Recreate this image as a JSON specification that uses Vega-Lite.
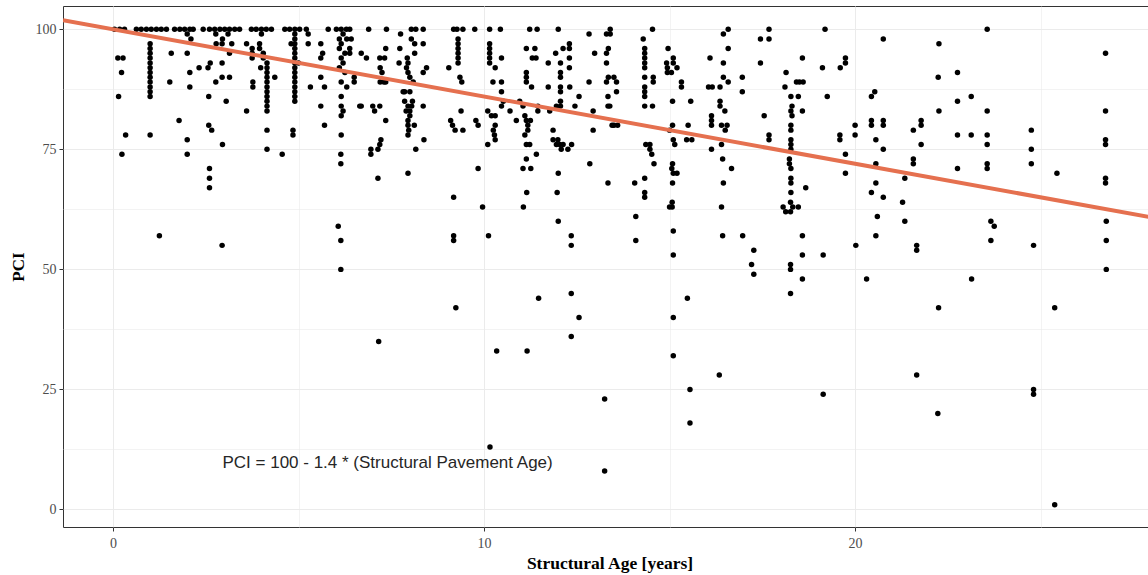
{
"$schema": "https://vega.github.io/schema/vega-lite/v6.json",
"width": 1093, "height": 521,
"autosize": {"type": "none"},
"padding": {"left": 63, "top": 6, "right": 0, "bottom": 48},
"background": "white",
"config": {"view": {"stroke": "#333333", "strokeWidth": 1}},
"datasets": {
"pts": [
{"a":0.04,"p":100},{"a":0.18,"p":100},{"a":0.31,"p":100},{"a":0.13,"p":94},{"a":0.27,"p":94},{"a":0.23,"p":91},{"a":0.15,"p":86},{"a":0.34,"p":78},{"a":0.24,"p":74},
{"a":0.63,"p":100},{"a":0.76,"p":100},{"a":0.9,"p":100},{"a":1.03,"p":100},{"a":1.17,"p":100},{"a":1.3,"p":100},{"a":1.44,"p":100},
{"a":1.0,"p":97},{"a":1.0,"p":96},{"a":1.0,"p":95},{"a":1.0,"p":94},{"a":1.0,"p":93},{"a":1.0,"p":92},{"a":1.0,"p":91},{"a":1.0,"p":90},{"a":1.0,"p":89},{"a":1.0,"p":88},{"a":1.0,"p":87},{"a":1.0,"p":86},{"a":1.0,"p":78},{"a":1.25,"p":57},
{"a":1.66,"p":100},{"a":1.8,"p":100},{"a":1.93,"p":100},{"a":2.07,"p":100},{"a":2.16,"p":100},{"a":2.0,"p":99},{"a":2.1,"p":98},{"a":1.57,"p":95},{"a":1.53,"p":89},{"a":1.78,"p":81},{"a":2.0,"p":95},{"a":2.0,"p":77},{"a":2.0,"p":74},{"a":2.07,"p":91},{"a":2.07,"p":88},{"a":2.32,"p":92},
{"a":2.43,"p":100},{"a":2.6,"p":100},{"a":2.74,"p":100},{"a":2.88,"p":100},{"a":3.01,"p":100},{"a":3.14,"p":100},{"a":3.28,"p":100},{"a":3.41,"p":100},{"a":2.77,"p":99},{"a":2.95,"p":98},{"a":3.1,"p":99},{"a":3.2,"p":97},{"a":2.78,"p":97},{"a":2.94,"p":97},
{"a":2.56,"p":92},{"a":2.62,"p":93},{"a":2.77,"p":89},{"a":2.94,"p":93},{"a":2.94,"p":90},{"a":3.14,"p":90},{"a":3.14,"p":95},{"a":3.05,"p":85},{"a":2.58,"p":86},{"a":2.58,"p":80},{"a":2.66,"p":79},{"a":2.95,"p":76},{"a":2.6,"p":71},{"a":2.6,"p":69},{"a":2.6,"p":67},{"a":2.94,"p":55},
{"a":3.73,"p":100},{"a":3.86,"p":100},{"a":4.0,"p":100},{"a":4.13,"p":100},{"a":4.27,"p":100},{"a":4.0,"p":99},
{"a":3.6,"p":97},{"a":3.6,"p":83},{"a":3.77,"p":89},{"a":3.77,"p":88},{"a":3.75,"p":96},{"a":3.75,"p":95},{"a":3.75,"p":94},{"a":3.95,"p":97},{"a":3.95,"p":96},{"a":4.05,"p":95},{"a":4.05,"p":94},{"a":3.98,"p":92},
{"a":4.15,"p":93},{"a":4.15,"p":92},{"a":4.15,"p":91},{"a":4.15,"p":90},{"a":4.15,"p":89},{"a":4.15,"p":88},{"a":4.15,"p":87},{"a":4.15,"p":86},{"a":4.15,"p":85},{"a":4.15,"p":84},{"a":4.15,"p":83},{"a":4.15,"p":79},{"a":4.15,"p":75},{"a":4.36,"p":90},{"a":4.56,"p":74},
{"a":4.63,"p":100},{"a":4.76,"p":100},{"a":4.9,"p":100},{"a":5.03,"p":100},{"a":5.21,"p":100},
{"a":4.9,"p":99},{"a":4.9,"p":98},{"a":4.9,"p":97},{"a":4.9,"p":96},{"a":4.9,"p":95},{"a":4.9,"p":94},{"a":4.9,"p":93},{"a":4.9,"p":92},{"a":4.9,"p":91},{"a":4.9,"p":90},{"a":4.9,"p":89},{"a":4.9,"p":88},{"a":4.9,"p":87},{"a":4.9,"p":86},{"a":4.9,"p":85},{"a":4.85,"p":79},{"a":4.85,"p":78},{"a":4.8,"p":97},{"a":5.0,"p":93},
{"a":5.26,"p":99},{"a":5.26,"p":97},{"a":5.32,"p":88},
{"a":5.6,"p":97},{"a":5.65,"p":95},{"a":5.6,"p":90},{"a":5.7,"p":88},{"a":5.6,"p":84},{"a":5.7,"p":80},{"a":5.8,"p":100},{"a":5.6,"p":94},
{"a":6.02,"p":100},{"a":6.15,"p":100},{"a":6.29,"p":100},{"a":6.38,"p":100},{"a":6.2,"p":99},{"a":6.1,"p":98},{"a":6.3,"p":98},{"a":6.15,"p":97},{"a":6.1,"p":96},{"a":6.25,"p":95},{"a":6.15,"p":94},{"a":6.2,"p":93},{"a":6.1,"p":92},{"a":6.25,"p":91},{"a":6.15,"p":89},{"a":6.3,"p":88},{"a":6.15,"p":86},{"a":6.15,"p":84},{"a":6.2,"p":83},{"a":6.15,"p":82},{"a":6.15,"p":78},{"a":6.14,"p":74},{"a":6.14,"p":72},{"a":6.07,"p":59},{"a":6.14,"p":56},{"a":6.14,"p":50},
{"a":6.5,"p":90},{"a":6.5,"p":89},{"a":6.65,"p":84},{"a":6.42,"p":98},{"a":6.38,"p":96},{"a":6.38,"p":95},{"a":6.69,"p":95},{"a":6.83,"p":94},{"a":6.89,"p":100},{"a":6.69,"p":84},
{"a":7.37,"p":100},{"a":7.19,"p":94},{"a":7.32,"p":94},{"a":7.35,"p":96},{"a":7.2,"p":92},{"a":7.25,"p":91},{"a":7.2,"p":89},{"a":7.3,"p":89},{"a":7.35,"p":89},{"a":7.0,"p":84},{"a":7.05,"p":83},{"a":7.19,"p":84},{"a":7.35,"p":81},{"a":6.95,"p":75},{"a":6.95,"p":74},{"a":7.14,"p":75},{"a":7.19,"p":76},{"a":7.22,"p":77},{"a":7.14,"p":69},{"a":7.16,"p":35},
{"a":7.75,"p":99},{"a":8.04,"p":100},{"a":8.16,"p":100},{"a":8.36,"p":100},{"a":7.73,"p":96},{"a":7.71,"p":93},{"a":8.04,"p":98},{"a":8.13,"p":97},{"a":8.36,"p":97},{"a":8.13,"p":95},
{"a":7.93,"p":94},{"a":7.95,"p":93},{"a":7.91,"p":92},{"a":7.95,"p":91},{"a":8.0,"p":90},{"a":8.09,"p":89},{"a":8.45,"p":92},{"a":8.36,"p":91},
{"a":7.82,"p":87},{"a":7.86,"p":87},{"a":8.0,"p":87},{"a":7.86,"p":85},{"a":8.07,"p":85},{"a":7.95,"p":84},{"a":8.05,"p":84},{"a":7.9,"p":83},{"a":8.0,"p":83},{"a":8.0,"p":82},{"a":7.95,"p":81},{"a":7.95,"p":80},{"a":7.97,"p":79},{"a":7.95,"p":78},{"a":8.12,"p":80},{"a":8.36,"p":84},{"a":8.38,"p":77},{"a":8.16,"p":75},{"a":7.95,"p":70},
{"a":9.18,"p":100},{"a":9.27,"p":100},{"a":9.43,"p":100},{"a":9.75,"p":100},{"a":9.3,"p":98},{"a":9.3,"p":97},{"a":9.3,"p":96},{"a":9.3,"p":95},{"a":9.3,"p":94},{"a":9.3,"p":93},{"a":9.35,"p":90},{"a":9.4,"p":89},{"a":9.05,"p":92},{"a":9.1,"p":81},{"a":9.15,"p":80},{"a":9.22,"p":79},{"a":9.43,"p":79},{"a":9.38,"p":83},{"a":9.78,"p":81},{"a":9.84,"p":80},{"a":9.84,"p":71},{"a":9.18,"p":65},{"a":9.18,"p":57},{"a":9.18,"p":56},{"a":9.24,"p":42},{"a":9.96,"p":63},
{"a":10.15,"p":100},{"a":10.44,"p":100},{"a":10.15,"p":97},{"a":10.15,"p":96},{"a":10.15,"p":95},{"a":10.15,"p":94},{"a":10.15,"p":93},{"a":10.47,"p":94},{"a":10.3,"p":92},{"a":10.24,"p":89},{"a":10.47,"p":89},{"a":10.47,"p":87},{"a":10.1,"p":83},{"a":10.2,"p":82},{"a":10.3,"p":82},{"a":10.3,"p":80},{"a":10.28,"p":78},{"a":10.25,"p":79},{"a":10.1,"p":76},{"a":10.3,"p":77},{"a":10.47,"p":84},{"a":10.52,"p":85},{"a":10.7,"p":83},{"a":10.87,"p":81},{"a":10.12,"p":57},{"a":10.34,"p":33},{"a":10.16,"p":13},
{"a":11.23,"p":100},{"a":11.43,"p":100},{"a":11.14,"p":96},{"a":11.37,"p":96},{"a":11.4,"p":94},{"a":11.3,"p":94},{"a":11.14,"p":91},{"a":11.14,"p":90},{"a":11.14,"p":89},{"a":11.28,"p":88},{"a":10.96,"p":85},{"a":11.05,"p":84},{"a":11.1,"p":82},{"a":11.14,"p":81},{"a":11.18,"p":80},{"a":11.25,"p":81},{"a":11.18,"p":79},{"a":11.1,"p":78},{"a":11.14,"p":76},{"a":11.23,"p":76},{"a":11.14,"p":73},{"a":11.05,"p":71},{"a":11.26,"p":71},{"a":11.41,"p":74},{"a":11.45,"p":83},{"a":11.45,"p":84},{"a":11.15,"p":66},{"a":11.06,"p":63},{"a":11.47,"p":44},{"a":11.16,"p":33},
{"a":12.0,"p":100},{"a":11.73,"p":93},{"a":11.73,"p":88},{"a":11.93,"p":95},{"a":12.13,"p":96},{"a":12.06,"p":93},{"a":12.06,"p":91},{"a":12.06,"p":90},{"a":12.06,"p":88},{"a":12.06,"p":87},{"a":12.06,"p":85},{"a":12.06,"p":84},{"a":12.3,"p":97},{"a":12.3,"p":96},{"a":12.3,"p":94},{"a":12.3,"p":92},{"a":12.31,"p":88},{"a":12.56,"p":86},{"a":12.45,"p":84},{"a":11.77,"p":83},{"a":11.95,"p":84},{"a":11.86,"p":79},{"a":11.86,"p":77},{"a":11.99,"p":77},{"a":11.95,"p":76},{"a":12.04,"p":76},{"a":12.13,"p":76},{"a":12.08,"p":75},{"a":12.26,"p":75},{"a":12.36,"p":76},{"a":12.0,"p":70},{"a":11.97,"p":66},{"a":12.0,"p":60},{"a":12.35,"p":57},{"a":12.35,"p":55},{"a":12.35,"p":45},{"a":12.56,"p":40},{"a":12.35,"p":36},
{"a":12.83,"p":99},{"a":13.3,"p":99},{"a":13.4,"p":100},{"a":13.4,"p":99},{"a":12.98,"p":95},{"a":12.83,"p":89},{"a":12.94,"p":83},{"a":12.94,"p":79},{"a":12.85,"p":72},{"a":13.35,"p":96},{"a":13.3,"p":95},{"a":13.3,"p":93},{"a":13.35,"p":90},{"a":13.5,"p":90},{"a":13.57,"p":89},{"a":13.3,"p":89},{"a":13.57,"p":87},{"a":13.34,"p":86},{"a":13.39,"p":84},{"a":13.34,"p":84},{"a":13.45,"p":80},{"a":13.5,"p":80},{"a":13.6,"p":80},{"a":13.34,"p":68},{"a":13.25,"p":23},{"a":13.25,"p":8},
{"a":14.29,"p":98},{"a":14.54,"p":100},{"a":14.33,"p":96},{"a":14.33,"p":95},{"a":14.33,"p":94},{"a":14.33,"p":93},{"a":14.33,"p":92},{"a":14.33,"p":90},{"a":14.33,"p":88},{"a":14.33,"p":87},{"a":14.33,"p":86},{"a":14.33,"p":84},{"a":14.56,"p":90},{"a":14.56,"p":89},{"a":14.54,"p":84},{"a":14.36,"p":76},{"a":14.47,"p":76},{"a":14.47,"p":75},{"a":14.52,"p":74},{"a":14.58,"p":72},{"a":14.33,"p":69},{"a":14.33,"p":66},{"a":14.33,"p":65},{"a":14.06,"p":68},{"a":14.09,"p":61},{"a":14.09,"p":56},
{"a":14.96,"p":96},{"a":14.92,"p":93},{"a":14.94,"p":92},{"a":15.05,"p":91},{"a":15.1,"p":94},{"a":15.2,"p":92},{"a":15.1,"p":93},{"a":14.94,"p":91},{"a":15.32,"p":89},{"a":15.32,"p":88},{"a":15.08,"p":85},{"a":15.57,"p":85},{"a":15.08,"p":80},{"a":15.0,"p":79},{"a":15.1,"p":77},{"a":15.14,"p":76},{"a":15.5,"p":80},{"a":15.46,"p":77},{"a":15.6,"p":77},{"a":15.08,"p":72},{"a":15.06,"p":71},{"a":15.2,"p":70},{"a":15.1,"p":70},{"a":15.08,"p":68},{"a":15.07,"p":64},{"a":15.07,"p":63},{"a":15.0,"p":63},{"a":15.1,"p":58},{"a":15.1,"p":53},{"a":15.48,"p":44},{"a":15.1,"p":40},{"a":15.1,"p":32},{"a":15.55,"p":25},{"a":15.55,"p":18},
{"a":16.09,"p":94},{"a":16.05,"p":88},{"a":16.15,"p":88},{"a":16.36,"p":88},{"a":16.36,"p":85},{"a":16.36,"p":84},{"a":16.49,"p":83},{"a":16.13,"p":82},{"a":16.13,"p":81},{"a":16.13,"p":80},{"a":16.13,"p":75},{"a":16.4,"p":80},{"a":16.55,"p":80},{"a":16.5,"p":79},{"a":16.4,"p":76},{"a":16.43,"p":73},{"a":16.67,"p":71},{"a":16.45,"p":68},{"a":16.45,"p":99},{"a":16.58,"p":100},{"a":16.58,"p":96},{"a":16.45,"p":93},{"a":16.58,"p":89},{"a":16.45,"p":90},{"a":16.4,"p":63},{"a":16.43,"p":57},{"a":16.34,"p":28},
{"a":16.96,"p":90},{"a":16.96,"p":87},{"a":16.97,"p":57},{"a":17.27,"p":54},{"a":17.21,"p":51},{"a":17.27,"p":49},{"a":17.45,"p":98},{"a":17.68,"p":98},{"a":17.68,"p":100},{"a":17.45,"p":93},{"a":17.55,"p":82},{"a":17.68,"p":78},{"a":17.68,"p":77},
{"a":18.14,"p":91},{"a":18.11,"p":88},{"a":18.27,"p":86},{"a":18.27,"p":83},{"a":18.3,"p":84},{"a":18.3,"p":82},{"a":18.27,"p":80},{"a":18.27,"p":79},{"a":18.27,"p":77},{"a":18.27,"p":76},{"a":18.27,"p":75},{"a":18.23,"p":73},{"a":18.23,"p":72},{"a":18.27,"p":71},{"a":18.27,"p":69},{"a":18.27,"p":68},{"a":18.27,"p":66},{"a":18.47,"p":86},{"a":18.58,"p":83},{"a":18.5,"p":89},{"a":18.42,"p":89},{"a":18.6,"p":89},{"a":18.58,"p":94},{"a":18.67,"p":67},{"a":18.26,"p":64},{"a":18.06,"p":63},{"a":18.13,"p":62},{"a":18.26,"p":62},{"a":18.32,"p":63},{"a":18.47,"p":63},{"a":18.58,"p":57},{"a":18.58,"p":53},{"a":18.26,"p":51},{"a":18.26,"p":50},{"a":18.58,"p":48},{"a":18.26,"p":45},
{"a":19.19,"p":100},{"a":19.12,"p":92},{"a":19.25,"p":86},{"a":19.6,"p":92},{"a":19.74,"p":94},{"a":19.74,"p":93},{"a":19.59,"p":78},{"a":19.59,"p":77},{"a":19.74,"p":74},{"a":19.74,"p":70},{"a":19.14,"p":53},{"a":19.14,"p":24},
{"a":20.0,"p":80},{"a":20.0,"p":78},{"a":20.44,"p":86},{"a":20.53,"p":87},{"a":20.44,"p":80},{"a":20.44,"p":81},{"a":20.76,"p":81},{"a":20.76,"p":80},{"a":20.56,"p":77},{"a":20.76,"p":75},{"a":20.56,"p":72},{"a":20.56,"p":68},{"a":20.44,"p":66},{"a":20.76,"p":65},{"a":20.76,"p":98},{"a":20.02,"p":55},{"a":20.31,"p":48},{"a":20.6,"p":61},{"a":20.56,"p":57},
{"a":21.34,"p":69},{"a":21.57,"p":79},{"a":21.78,"p":81},{"a":21.78,"p":80},{"a":21.78,"p":76},{"a":21.57,"p":73},{"a":21.57,"p":72},{"a":21.28,"p":64},{"a":21.34,"p":60},{"a":21.66,"p":55},{"a":21.66,"p":54},{"a":21.66,"p":28},
{"a":22.26,"p":97},{"a":22.24,"p":90},{"a":22.26,"p":83},{"a":22.76,"p":91},{"a":22.76,"p":85},{"a":22.76,"p":78},{"a":22.76,"p":71},{"a":22.25,"p":42},{"a":22.23,"p":20},
{"a":23.56,"p":100},{"a":23.13,"p":86},{"a":23.56,"p":83},{"a":23.13,"p":78},{"a":23.56,"p":78},{"a":23.56,"p":76},{"a":23.56,"p":72},{"a":23.56,"p":71},{"a":23.66,"p":60},{"a":23.75,"p":59},{"a":23.66,"p":56},{"a":23.14,"p":48},
{"a":24.75,"p":79},{"a":24.75,"p":75},{"a":24.75,"p":72},{"a":24.81,"p":55},{"a":24.81,"p":25},{"a":24.81,"p":24},{"a":25.44,"p":70},{"a":25.38,"p":42},{"a":25.38,"p":1},
{"a":26.75,"p":95},{"a":26.75,"p":83},{"a":26.75,"p":77},{"a":26.75,"p":76},{"a":26.75,"p":69},{"a":26.75,"p":68},{"a":26.77,"p":60},{"a":26.77,"p":56},{"a":26.77,"p":50}
],
"fit": [{"a": -1.348, "p": 101.89}, {"a": 28.11, "p": 60.65}],
"note": [{"a": 7.4, "p": 9.6, "t": "PCI = 100 - 1.4 * (Structural Pavement Age)"}]
},
"layer": [
{
"data": {"name": "pts"},
"mark": {"type": "point", "filled": true, "shape": "circle", "color": "black", "size": 30, "opacity": 1},
"encoding": {
"x": {"field": "a", "type": "quantitative",
"scale": {"domain": [-1.348, 28.11], "nice": false, "zero": false},
"axis": {"values": [0, 5, 10, 15, 20, 25], "labelExpr": "datum.value % 10 === 0 ? datum.label : ''",
"title": "Structural Age [years]", "grid": true, "gridColor": "#EBEBEB",
"gridWidth": {"condition": {"test": "datum.value % 10 !== 0", "value": 0.6}, "value": 1},
"tickOpacity": {"condition": {"test": "datum.value % 10 !== 0", "value": 0}, "value": 1},
"tickColor": "#333333", "tickSize": 4, "domain": false,
"labelFont": "Liberation Serif", "labelFontSize": 14, "labelColor": "#4D4D4D", "labelPadding": 5,
"labelOverlap": false, "labelFlush": false,
"titleFont": "Liberation Serif", "titleFontSize": 17.5, "titleFontWeight": "bold", "titleColor": "#000000", "titlePadding": 4}},
"y": {"field": "p", "type": "quantitative",
"scale": {"domain": [-3.65, 104.85], "nice": false, "zero": false},
"axis": {"values": [0, 12.5, 25, 37.5, 50, 62.5, 75, 87.5, 100], "labelExpr": "datum.value % 25 === 0 ? datum.label : ''",
"title": "PCI", "grid": true, "gridColor": "#EBEBEB",
"gridWidth": {"condition": {"test": "datum.value % 25 !== 0", "value": 0.6}, "value": 1},
"tickOpacity": {"condition": {"test": "datum.value % 25 !== 0", "value": 0}, "value": 1},
"tickColor": "#333333", "tickSize": 4, "domain": false,
"labelFont": "Liberation Serif", "labelFontSize": 14, "labelColor": "#4D4D4D", "labelPadding": 3,
"labelOverlap": false, "labelFlush": false,
"titleFont": "Liberation Serif", "titleFontSize": 17, "titleFontWeight": "bold", "titleColor": "#000000", "titlePadding": 8}}
}
},
{
"data": {"name": "fit"},
"mark": {"type": "line", "color": "#E5704F", "strokeWidth": 4, "clip": true},
"encoding": {"x": {"field": "a", "type": "quantitative"}, "y": {"field": "p", "type": "quantitative"}}
},
{
"data": {"name": "note"},
"mark": {"type": "text", "font": "Liberation Sans", "fontSize": 17, "color": "#262626", "align": "center", "baseline": "middle"},
"encoding": {"x": {"field": "a", "type": "quantitative"}, "y": {"field": "p", "type": "quantitative"}, "text": {"field": "t", "type": "nominal"}}
}
]
}
